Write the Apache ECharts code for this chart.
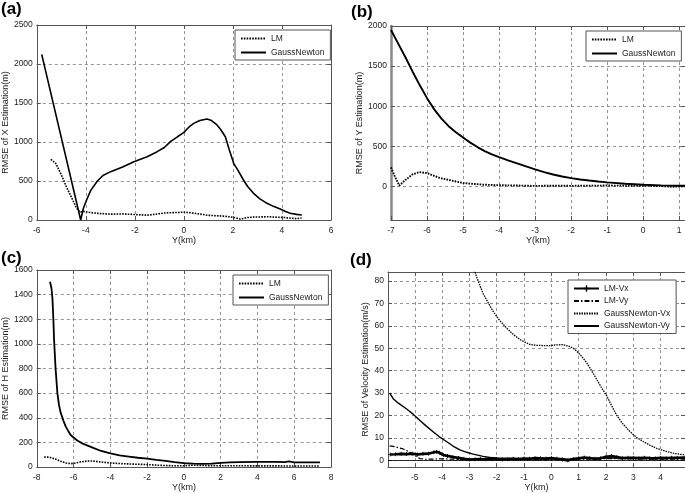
<!DOCTYPE html>
<html><head><meta charset="utf-8">
<script src="https://cdn.jsdelivr.net/npm/echarts@6/dist/echarts.min.js"></script>
<style>html,body{margin:0;padding:0;background:#fff}#c{width:685px;height:493px}</style>
</head><body><div id="c"></div>
<script>
// ---------- Panel (a): RMSE of X ----------
const aGN_x = [-5.8, -4.21, -4.1, -3.97, -3.8, -3.53, -3.3, -2.99, -2.5, -2.04, -1.5, -1.09, -0.8, -0.55, -0.25, -0.01, 0.2, 0.4, 0.65, 0.94, 1.1, 1.35, 1.5, 1.69, 1.85, 2.03, 2.2, 2.43, 2.6, 2.84, 3.1, 3.39, 3.65, 3.93, 4.15, 4.33, 4.6, 4.81];
const aGN_y = [2124, 0, 150, 256, 380, 500, 570, 620, 680, 748, 810, 876, 930, 1004, 1070, 1120, 1190, 1239, 1275, 1295, 1280, 1218, 1160, 1068, 900, 727, 640, 513, 430, 342, 270, 214, 175, 141, 110, 86, 72, 64];
const aLM_x = [-5.43, -5.23, -5.0, -4.8, -4.6, -4.41, -4.25, -4.1, -3.8, -3.5, -3.0, -2.5, -2.0, -1.5, -1.2, -0.8, -0.4, 0, 0.3, 0.6, 1.0, 1.3, 1.6, 1.9, 2.1, 2.3, 2.6, 2.9, 3.2, 3.5, 3.8, 4.1, 4.4, 4.6, 4.8];
const aLM_y = [778, 727, 580, 430, 300, 171, 100, 110, 95, 85, 75, 78, 70, 62, 72, 90, 95, 100, 92, 78, 60, 55, 50, 40, 28, 12, 32, 38, 40, 42, 35, 32, 22, 18, 25];

// ---------- Panel (b): RMSE of Y ----------
const bGN_x = [-7, -6.8, -6.6, -6.4, -6.2, -6.0, -5.8, -5.6, -5.4, -5.2, -5.0, -4.8, -4.6, -4.4, -4.2, -4.0, -3.75, -3.5, -3.25, -3.0, -2.75, -2.5, -2.25, -2.0, -1.75, -1.5, -1.25, -1.0, -0.5, 0, 0.5, 1.0, 1.16];
const bGN_y = [1950, 1780, 1610, 1430, 1260, 1100, 960, 845, 750, 675, 608, 545, 490, 440, 400, 365, 325, 287, 248, 212, 178, 148, 123, 103, 86, 72, 60, 50, 32, 20, 12, 8, 7];
const bLM_x = [-7, -6.9, -6.77, -6.6, -6.4, -6.21, -6.0, -5.8, -5.65, -5.4, -5.2, -5.0, -4.7, -4.45, -4.0, -3.5, -3.0, -2.5, -2.0, -1.5, -1.0, -0.5, 0, 0.5, 0.8, 1.16];
const bLM_y = [236, 130, 9, 80, 150, 177, 165, 130, 105, 80, 60, 42, 30, 21, 14, 10, 5, 8, 6, 8, 10, 8, 6, 4, -5, 0];

// ---------- Panel (c): RMSE of H ----------
const cGN_x = [-7.28, -7.2, -7.15, -7.1, -7.06, -6.98, -6.88, -6.8, -6.7, -6.55, -6.43, -6.3, -6.16, -6.0, -5.8, -5.5, -5.0, -4.5, -4.0, -3.5, -3.0, -2.5, -2.0, -1.5, -1.0, -0.5, 0, 0.5, 1.0, 1.5, 2.0, 2.5, 3.0, 4.0, 5.0, 5.5, 5.7, 6.0, 7.0, 7.4];
const cGN_y = [1505, 1450, 1370, 1200, 1030, 800, 600, 510, 440, 375, 330, 295, 260, 240, 215, 190, 160, 130, 110, 95, 85, 75, 68, 58, 50, 40, 32, 27, 26, 27, 33, 38, 40, 42, 42, 40, 45, 38, 38, 38];
const cLM_x = [-7.6, -7.4, -7.24, -7.0, -6.7, -6.4, -6.16, -5.9, -5.6, -5.3, -5.07, -4.8, -4.53, -4.2, -4.0, -3.5, -3.0, -2.5, -2.0, -1.5, -1.0, -0.5, 0, 0.5, 1.0, 2.0, 3.0, 4.0, 5.0, 6.0, 7.0, 7.4];
const cLM_y = [81, 80, 76, 65, 46, 32, 27, 32, 42, 47, 49, 46, 41, 36, 33, 28, 25, 22, 20, 15, 12, 10, 10, 15, 12, 10, 10, 9, 9, 8, 8, 8];

// ---------- Panel (d): RMSE of velocity ----------
const dGNVx_x = [-2.9, -2.8, -2.65, -2.5, -2.3, -2.13, -1.9, -1.64, -1.4, -1.15, -0.95, -0.79, -0.55, -0.3, -0.05, 0.19, 0.4, 0.55, 0.68, 0.8, 0.92, 1.1, 1.29, 1.47, 1.65, 1.83, 2.02, 2.2, 2.39, 2.6, 2.88, 3.1, 3.36, 3.6, 3.85, 4.15, 4.46, 4.7, 4.89];
const dGNVx_y = [87, 84, 79, 74.4, 70, 66.4, 62.5, 59, 56.2, 53.9, 52.6, 51.7, 51.3, 51.2, 51.2, 51.5, 51.6, 51.2, 50.7, 50, 48.8, 46.5, 43.6, 40, 36.3, 32.5, 28.9, 24.5, 20.1, 16.5, 12.8, 10.4, 8.4, 6.8, 5.4, 4.2, 3.2, 2.7, 2.5];
const dGNVy_x = [-5.92, -5.85, -5.79, -5.6, -5.31, -5.05, -4.82, -4.6, -4.33, -4.1, -3.84, -3.6, -3.35, -3.1, -2.86, -2.5, -2.25, -2, -1.64, -1.2, -0.8, -0.4, 0, 0.4, 0.6, 0.8, 1.2, 1.6, 2.0, 2.4, 2.8, 3.2, 3.6, 4.0, 4.4, 4.89];
const dGNVy_y = [30, 29.8, 27.5, 25.5, 23, 20.5, 17.9, 15.5, 12.8, 10.5, 8.4, 6.4, 4.7, 3.6, 2.8, 1.8, 1.3, 1.1, 1.0, 0.8, 0.9, 0.7, 0.8, 0.9, 0.3, 0.8, 1.0, 0.9, 1.1, 1.0, 1.1, 1.0, 1.1, 1.0, 1.1, 1.2];
const dLMVx_x = [-5.9, -5.7, -5.5, -5.3, -5.1, -4.9, -4.7, -4.5, -4.3, -4.2, -4.1, -3.95, -3.8, -3.6, -3.4, -3.2, -3.0, -2.8, -2.6, -2.4, -2.2, -2.0, -1.8, -1.6, -1.4, -1.2, -1.0, -0.8, -0.6, -0.4, -0.2, 0, 0.2, 0.4, 0.6, 0.8, 1.0, 1.2, 1.4, 1.6, 1.8, 2.0, 2.2, 2.4, 2.6, 2.8, 3.0, 3.2, 3.4, 3.6, 3.8, 4.0, 4.2, 4.4, 4.6, 4.89];
const dLMVx_y = [2.6, 2.7, 2.9, 2.8, 3.0, 2.6, 2.9, 3.0, 3.6, 3.8, 3.4, 2.4, 2.0, 1.5, 1.1, 0.7, 0.4, 0.5, 0.6, 0.5, 0.7, 0.6, 0.4, 0.5, 0.7, 0.6, 0.8, 0.7, 1.0, 0.9, 0.8, 1.0, 0.7, 0.4, 0.0, 0.6, 0.9, 1.3, 1.0, 0.7, 0.9, 1.6, 1.9, 1.5, 1.0, 1.2, 1.1, 1.0, 1.2, 1.0, 0.9, 1.1, 1.0, 1.2, 1.1, 1.3];
const dLMVy_x = [-5.92, -5.7, -5.43, -5.2, -5.06, -4.9, -4.82, -4.6, -4.3, -4.0, -3.5, -3.0, -2.5, -2.0, -1.0, 0, 1, 2, 3, 4, 4.89];
const dLMVy_y = [6.5, 6.0, 5.1, 3.8, 2.5, 1.5, 0.8, 0.5, 0.6, 0.7, 0.5, 0.3, 0.4, 0.3, 0.3, 0.4, 0.5, 0.8, 0.6, 0.5, 0.6];

// tick labels
const bXTicks = [-7, -6, -5, -4, -3, -2, -1, 0, 1];
const bYTicks = [0, 500, 1000, 1500, 2000];
const dXTicks = [-5, -4, -3, -2, -1, 0, 1, 2, 3, 4];
const dYTicks = [0, 10, 20, 30, 40, 50, 60, 70, 80];

const FONT = 'Liberation Sans';
function zip(xs, ys) { return xs.map((x, i) => [x, ys[i]]); }
const fmt = v => String(v);

const grids = [
  {left: 36, top: 25, width: 295, height: 195},
  {left: 391, top: 26, width: 294, height: 194},
  {left: 36, top: 270, width: 295, height: 197},
  {left: 388, top: 272, width: 297, height: 197}
];

const AX = '#555', GRID = '#7a7a7a';
function mainX(gi, min, max, interval, custom) {
  const tick = {show: true, inside: true, length: 4, lineStyle: {color: AX}};
  const lab = {color: '#222', fontSize: 8.5, fontFamily: FONT, margin: 6, formatter: fmt};
  if (custom) { tick.customValues = custom; lab.customValues = custom; }
  return {type: 'value', gridIndex: gi, min, max, interval, position: 'bottom',
    axisLine: {show: true, onZero: false, lineStyle: {color: AX, width: 1}},
    axisTick: tick, axisLabel: lab,
    splitLine: {show: true, lineStyle: {color: GRID, type: [3, 3], width: 0.8}},
    name: 'Y(km)', nameLocation: 'middle', nameGap: 15,
    nameTextStyle: {fontSize: 9, fontFamily: FONT, color: '#222'}};
}
function topX(gi, min, max, interval, custom) {
  const tick = {show: true, inside: true, length: 4, lineStyle: {color: AX}};
  if (custom) tick.customValues = custom;
  return {type: 'value', gridIndex: gi, min, max, interval, position: 'top',
    axisLine: {show: true, onZero: false, lineStyle: {color: AX, width: 1}},
    axisTick: tick, axisLabel: {show: false}, splitLine: {show: false}};
}
function mainY(gi, min, max, interval, name, custom, lineW, gap) {
  const tick = {show: true, inside: true, length: 4, lineStyle: {color: AX}};
  const lab = {color: '#222', fontSize: 8.5, fontFamily: FONT, margin: 4, formatter: fmt};
  if (custom) { tick.customValues = custom; lab.customValues = custom; }
  return {type: 'value', gridIndex: gi, min, max, interval, position: 'left',
    axisLine: {show: true, onZero: false, lineStyle: {color: lineW ? '#888' : AX, width: lineW || 1}},
    axisTick: tick, axisLabel: lab,
    splitLine: {show: true, lineStyle: {color: GRID, type: [3, 3], width: 0.8}},
    name, nameLocation: 'middle', nameGap: gap,
    nameTextStyle: {fontSize: 9, fontFamily: FONT, color: '#222'}};
}
function rightY(gi, min, max, interval, custom) {
  const tick = {show: true, inside: true, length: 4, lineStyle: {color: AX}};
  if (custom) tick.customValues = custom;
  return {type: 'value', gridIndex: gi, min, max, interval, position: 'right',
    axisLine: {show: true, onZero: false, lineStyle: {color: AX, width: 1}},
    axisTick: tick, axisLabel: {show: false}, splitLine: {show: false}};
}

const xAxis = [
  mainX(0, -6, 6, 2), topX(0, -6, 6, 2),
  mainX(1, -7, 1.16, 1, bXTicks), topX(1, -7, 1.16, 1, bXTicks),
  mainX(2, -8, 8, 2), topX(2, -8, 8, 2),
  mainX(3, -5.98, 4.89, 1, dXTicks), topX(3, -5.98, 4.89, 1, dXTicks)
];
const yAxis = [
  mainY(0, 0, 2500, 500, 'RMSE of X Estimation(m)', null, 0, 26), rightY(0, 0, 2500, 500),
  mainY(1, -420, 2000, 500, 'RMSE of Y Estimation(m)', bYTicks, 2.5, 27), rightY(1, -420, 2000, 500, bYTicks),
  mainY(2, 0, 1600, 200, 'RMSE of H Estimation(m)', null, 0, 26), rightY(2, 0, 1600, 200),
  mainY(3, -3, 84, 10, 'RMSE of Velocity Estimation(m/s)', dYTicks, 0, 18), rightY(3, -3, 84, 10, dYTicks)
];

function line(name, gi, xs, ys, style, extra) {
  return Object.assign({type: 'line', name, xAxisIndex: 2 * gi, yAxisIndex: 2 * gi,
    data: zip(xs, ys), symbol: 'none', clip: true, animation: false, smooth: false,
    lineStyle: Object.assign({color: '#000', width: 1.6}, style),
    itemStyle: {color: '#000'}}, extra || {});
}
const DOT = {type: [1.6, 1.2], width: 1.6};
const series = [
  line('LM', 0, aLM_x, aLM_y, DOT),
  line('GaussNewton', 0, aGN_x, aGN_y, {width: 1.6}),
  line('LM', 1, bLM_x, bLM_y, {type: [1.6, 1.2], width: 1.9}),
  line('GaussNewton', 1, bGN_x, bGN_y, {width: 1.9}),
  line('LM', 2, cLM_x, cLM_y, DOT),
  line('GaussNewton', 2, cGN_x, cGN_y, {width: 1.8}),
  line('LM-Vx', 3, dLMVx_x, dLMVx_y, {width: 2.6},
    {symbol: 'path://M4,0h2v4h4v2h-4v4h-2v-4h-4v-2h4z', symbolSize: 4, showSymbol: true,
     markLine: {silent: true, symbol: 'none', label: {show: false},
       lineStyle: {color: '#000', type: 'solid', width: 0.8}, data: [{yAxis: 0}]}}),
  line('LM-Vy', 3, dLMVy_x, dLMVy_y, {type: [5, 2, 1.5, 2], width: 1.2}),
  line('GaussNewton-Vx', 3, dGNVx_x, dGNVx_y, {type: [1.5, 1], width: 1.3}),
  line('GaussNewton-Vy', 3, dGNVy_x, dGNVy_y, {width: 1.4})
];

function legend(left, top, data, gap) {
  return {orient: 'vertical', left, top, data, selectedMode: false,
    itemWidth: 25, itemHeight: 8, itemGap: gap, padding: [4, 6, 3, 5],
    borderColor: '#555', borderWidth: 1, backgroundColor: '#fff',
    itemStyle: {opacity: 0},
    textStyle: {fontSize: 8.5, fontFamily: FONT, color: '#222'}};
}

const chart = echarts.init(document.getElementById('c'), null, {renderer: 'canvas'});
chart.setOption({
  backgroundColor: '#fff',
  animation: false,
  grid: grids,
  xAxis, yAxis, series,
  legend: [
    legend(235, 30, ['LM', 'GaussNewton'], 5),
    legend(586, 31, ['LM', 'GaussNewton'], 5),
    legend(233, 275, ['LM', 'GaussNewton'], 5),
    legend(568, 280, [{name: 'LM-Vx', itemStyle: {opacity: 1}}, 'LM-Vy', 'GaussNewton-Vx', 'GaussNewton-Vy'], 3.5)
  ],
  graphic: [
    {type: 'text', left: 1, top: 1, style: {text: '(a)', font: 'bold 17px "Liberation Sans"', fill: '#000'}},
    {type: 'text', left: 351, top: 4, style: {text: '(b)', font: 'bold 17px "Liberation Sans"', fill: '#000'}},
    {type: 'text', left: 1, top: 250, style: {text: '(c)', font: 'bold 17px "Liberation Sans"', fill: '#000'}},
    {type: 'text', left: 350, top: 252, style: {text: '(d)', font: 'bold 17px "Liberation Sans"', fill: '#000'}}
  ]
});
</script></body></html>
